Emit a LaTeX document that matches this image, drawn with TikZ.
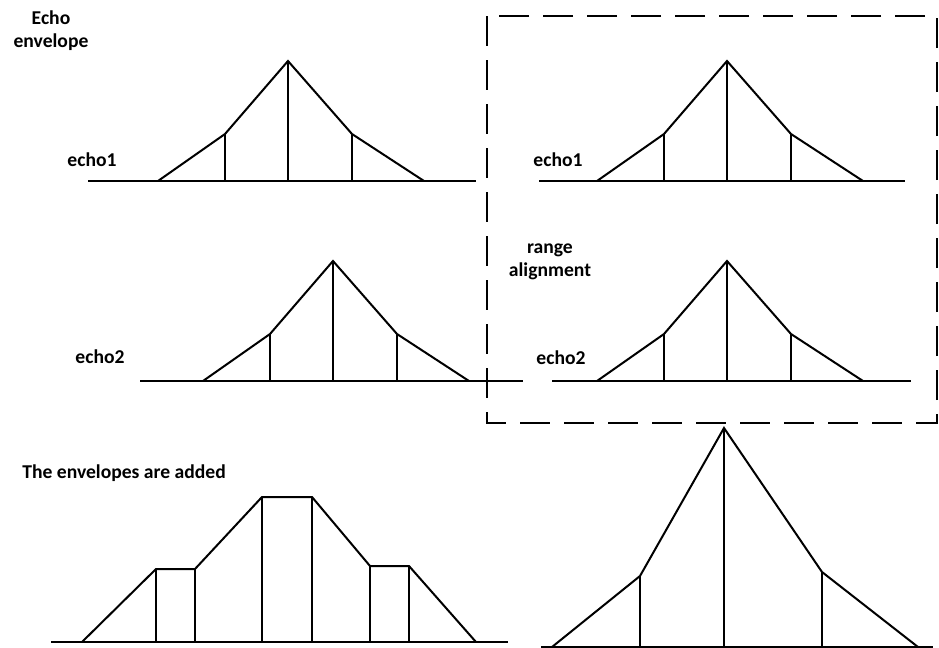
\documentclass[tikz,border=0pt]{standalone}
\usepackage{fontspec}
\setmainfont{Carlito}
\usetikzlibrary{positioning}
\tikzset{
  lbl/.style={font=\fontsize{9.8}{11.5}\selectfont\bfseries, inner sep=0pt, align=center},
  axis/.style={line width=1pt},
  trace/.style={line width=1pt, line join=miter},
  frame/.style={line width=1pt, dash pattern=on 15pt off 7pt}
}
\begin{document}
\begin{tikzpicture}[x=0.5pt, y=-0.5pt]
  \useasboundingbox (0,0) rectangle (939,648);

  % ---- Labels --------------------------------------------------------------
  \node[lbl] (head)   at (51,31)  {Echo\\envelope};
  \node[lbl] (echoAl) at (92,160) {echo1};
  \node[lbl] (echoAr) at (558,160) {echo1};
  \node[lbl] (echoBl) at (100,357) {echo2};
  \node[lbl] (echoBr) at (561,358) {echo2};
  \node[lbl, text depth=0pt] (align) at (550,260) {range\\alignment};
  \node[lbl, anchor=west] (added) at (22,473) {The envelopes are added};

  % ---- Single echoes: base x / base y / axis from / axis to ---------------
  \foreach \bx/\by/\lx/\rx in {158/181/88/476, 597/181/539/905,
                               203/381/140/523, 597/381/552/911} {
    \draw[axis] (\lx,\by) -- (\rx,\by);
    \draw[trace] (\bx,\by) -- ++(67,-47) -- ++(63,-73) -- ++(64,73) -- ++(72,47);
    \foreach \dx/\h in {67/47, 130/120, 194/47}
      \draw[trace] (\bx+\dx,\by) -- ++(0,-\h);
  }

  % ---- Range alignment window ----------------------------------------------
  \draw[frame] (487,16) rectangle (937,423);

  % ---- Added without alignment ---------------------------------------------
  \draw[axis] (51,642) -- (508,642);
  \draw[trace] (82,642) -- (156,569) -- (195,569) -- (262,497) -- (312,497)
               -- (370,566) -- (409,566) -- (476,642);
  \foreach \x/\y in {156/569, 195/569, 262/497, 312/497, 370/566, 409/566}
    \draw[trace] (\x,642) -- (\x,\y);

  % ---- Added after alignment -----------------------------------------------
  \draw[axis] (541,647) -- (933,647);
  \draw[trace] (552,647) -- (640,576) -- (724,428) -- (822,572) -- (918,647);
  \foreach \x/\y in {640/576, 724/428, 822/572}
    \draw[trace] (\x,647) -- (\x,\y);

\end{tikzpicture}
\end{document}
